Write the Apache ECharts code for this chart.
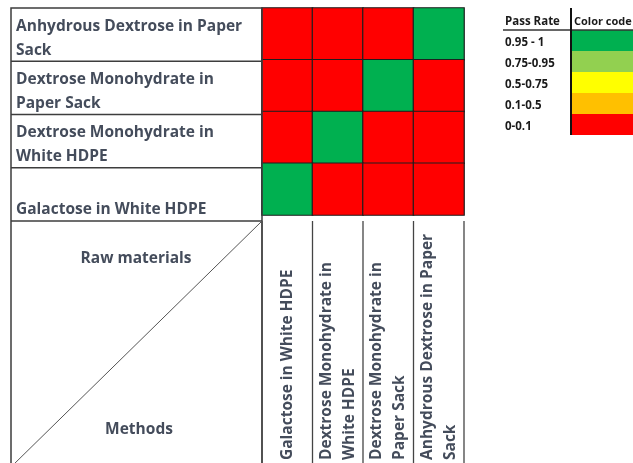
<!DOCTYPE html>
<html>
<head>
<meta charset="utf-8">
<script src="https://cdn.jsdelivr.net/npm/echarts@6/dist/echarts.min.js"></script>
<style>
html,body{margin:0;padding:0;background:#fff;}
#chart{width:633px;height:463px;}
</style>
</head>
<body>
<div id="chart"></div>
<script>
// ---- data ----
var rawMaterials = [
  'Anhydrous Dextrose in Paper Sack',
  'Dextrose Monohydrate in Paper Sack',
  'Dextrose Monohydrate in White HDPE',
  'Galactose in White HDPE'
];
var methods = [
  'Galactose in White HDPE',
  'Dextrose Monohydrate in White HDPE',
  'Dextrose Monohydrate in Paper Sack',
  'Anhydrous Dextrose in Paper Sack'
];
// pass rate per raw material (row) for each method (column)
var passAnhydrousPaper = [0, 0, 0, 1];
var passMonoPaper      = [0, 0, 1, 0];
var passMonoHDPE       = [0, 1, 0, 0];
var passGalactoseHDPE  = [1, 0, 0, 0];
var passRates = [passAnhydrousPaper, passMonoPaper, passMonoHDPE, passGalactoseHDPE];

var legendLabels = ['0.95 - 1', '0.75-0.95', '0.5-0.75', '0.1-0.5', '0-0.1'];
var legendLower  = [0.95, 0.75, 0.5, 0.1, 0];
var legendUpper  = [1, 0.95, 0.75, 0.5, 0.1];
var legendColors = ['#00b050', '#92d050', '#ffff00', '#ffc000', '#ff0000'];
var legendHeader = ['Pass Rate', 'Color code'];
var cornerTop = 'Raw materials';
var cornerBottom = 'Methods';

// ---- layout ----
var GL = 262, GT = 8, GW = 202, GH = 213;
var TL = 11, TB = 467;
var TEXT = '#444c5b';
var FONT = 'Open Sans';
var FS = 15.5;

var heatData = [];
passRates.forEach(function (row, r) {
  row.forEach(function (v, c) { heatData.push([c, r, v]); });
});

var pieces = legendLabels.map(function (l, i) {
  var p = { gte: legendLower[i], color: legendColors[i] };
  if (i === 0) p.lte = legendUpper[i]; else p.lt = legendUpper[i];
  return p;
});

var graphics = [];
var lineStyle = function (c, w) { return { stroke: c, lineWidth: w }; };
graphics.push({ type: 'rect', shape: { x: TL, y: GT, width: GL - TL, height: TB - GT }, style: { fill: null, stroke: '#3d3d3d', lineWidth: 1.5 }, z: 10 });
for (var k = 1; k <= 4; k++) {
  var yy = GT + k * GH / 4;
  graphics.push({ type: 'line', shape: { x1: TL, y1: yy, x2: GL, y2: yy }, style: lineStyle('#3d3d3d', 1.5), z: 10 });
}
for (var k2 = 0; k2 <= 4; k2++) {
  var xx = GL + k2 * GW / 4;
  graphics.push({ type: 'line', shape: { x1: xx, y1: GT + GH, x2: xx, y2: TB }, style: lineStyle('#444', 1.3), z: 10 });
}
graphics.push({ type: 'line', shape: { x1: TL, y1: TB, x2: GL, y2: GT + GH }, style: lineStyle('#555', 1), z: 10 });
graphics.push({ type: 'text', x: 136, y: 259, style: { text: cornerTop, fontFamily: FONT, fontWeight: 'bold', fontSize: FS, fill: TEXT, align: 'center', verticalAlign: 'middle' }, z: 10 });
graphics.push({ type: 'text', x: 139, y: 430, style: { text: cornerBottom, fontFamily: FONT, fontWeight: 'bold', fontSize: FS, fill: TEXT, align: 'center', verticalAlign: 'middle' }, z: 10 });

// legend table
var LX = 505, LC = 572, LY = 30, LRH = 21;
var LF = 11.5;
graphics.push({ type: 'text', x: LX, y: 22, style: { text: legendHeader[0], fontFamily: FONT, fontWeight: 'bold', fontSize: LF, fill: '#1a1a1a', align: 'left', verticalAlign: 'middle' }, z: 10 });
graphics.push({ type: 'text', x: LC + 2, y: 22, style: { text: legendHeader[1], fontFamily: FONT, fontWeight: 'bold', fontSize: 11, fill: '#1a1a1a', align: 'left', verticalAlign: 'middle' }, z: 10 });
legendLabels.forEach(function (l, i) {
  graphics.push({ type: 'rect', shape: { x: LC, y: LY + i * LRH, width: 633 - LC, height: LRH }, style: { fill: legendColors[i] }, z: 9 });
  graphics.push({ type: 'text', x: LX, y: LY + i * LRH + 13, style: { text: l, fontFamily: FONT, fontWeight: 'bold', fontSize: LF, fill: '#1a1a1a', align: 'left', verticalAlign: 'middle' }, z: 10 });
});
graphics.push({ type: 'line', shape: { x1: 503, y1: LY, x2: 633, y2: LY }, style: lineStyle('#333', 1.5), z: 11 });
graphics.push({ type: 'line', shape: { x1: 571, y1: 8, x2: 571, y2: LY + 5 * LRH }, style: lineStyle('#111', 2), z: 11 });

var chart = echarts.init(document.getElementById('chart'), null, { renderer: 'canvas' });
chart.setOption({
  backgroundColor: '#fff',
  animation: false,
  textStyle: { fontFamily: FONT },
  grid: [
    { left: GL, top: GT, width: GW, height: GH },
    { left: GL, top: GT + GH / 8 + 1, width: GW, height: GH }
  ],
  xAxis: [
    {
      type: 'category', data: methods, gridIndex: 0, position: 'bottom',
      axisLine: { show: false }, axisTick: { show: false }, splitLine: { show: false },
      axisLabel: {
        interval: 0, rotate: 90, align: 'left', verticalAlign: 'middle', margin: 245,
        width: 231, overflow: 'break', lineHeight: 23,
        fontFamily: FONT, fontWeight: 'bold', fontSize: FS, color: TEXT
      }
    },
    { type: 'value', gridIndex: 1, show: false }
  ],
  yAxis: [
    {
      type: 'category', data: rawMaterials, gridIndex: 0, inverse: true,
      axisLine: { show: false }, axisTick: { show: false }, axisLabel: { show: false }, splitLine: { show: false }
    },
    {
      type: 'category', data: rawMaterials, gridIndex: 1, inverse: true,
      axisLine: { show: false }, axisTick: { show: false }, splitLine: { show: false },
      axisLabel: {
        interval: 0, align: 'left', verticalAlign: 'bottom', margin: GL - 16,
        width: 236, overflow: 'break', lineHeight: 24,
        fontFamily: FONT, fontWeight: 'bold', fontSize: FS, color: TEXT
      }
    }
  ],
  visualMap: { type: 'piecewise', show: false, seriesIndex: 0, dimension: 2, pieces: pieces },
  series: [{
    type: 'heatmap', xAxisIndex: 0, yAxisIndex: 0, data: heatData,
    itemStyle: { borderColor: '#1e1e1e', borderWidth: 1.2 },
    label: { show: false },
    emphasis: { disabled: true }
  }],
  graphic: graphics
});
</script>
</body>
</html>
